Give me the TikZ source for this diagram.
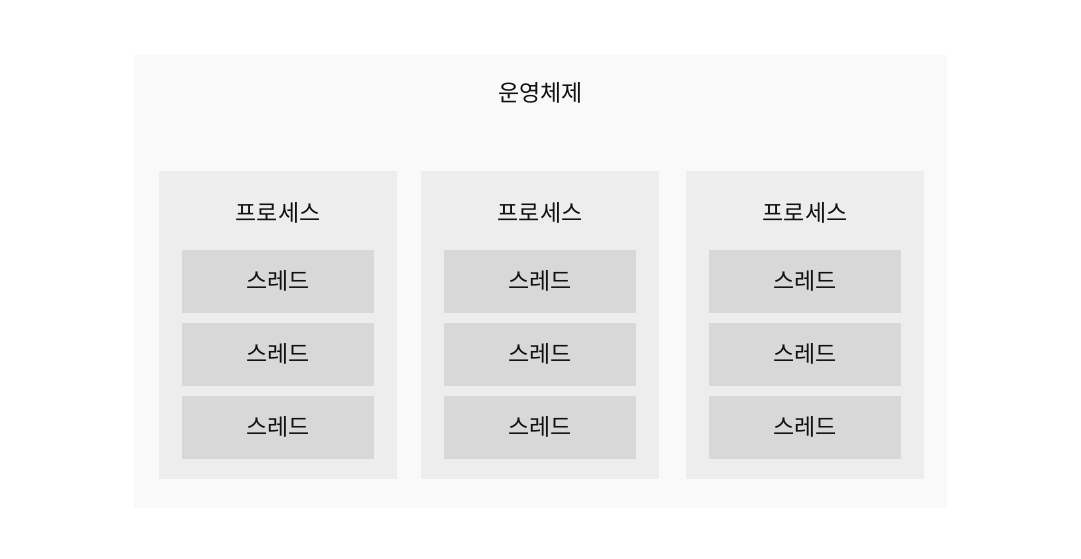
\documentclass[tikz,border=0pt]{standalone}
\usepackage{fontspec}
\newfontfamily\kr{Noto Sans CJK KR}
\definecolor{osbg}{HTML}{F9F9F9}
\definecolor{procbg}{HTML}{EDEDED}
\definecolor{thrbg}{HTML}{D8D8D8}
\definecolor{txt}{HTML}{111111}
\tikzset{
  osbox/.style={fill=osbg, draw=none},
  procbox/.style={fill=procbg, draw=none},
  thrbox/.style={fill=thrbg, draw=none, minimum width=192pt, minimum height=63pt, inner sep=0pt,
    font=\kr\fontsize{23}{27}\selectfont, text=txt},
  lbl/.style={font=\kr\fontsize{23}{27}\selectfont, text=txt, inner sep=0pt},
}
\begin{document}
\begin{tikzpicture}[x=1pt,y=-1pt]
\useasboundingbox (0,0) rectangle (1081,559);
\fill[white] (0,0) rectangle (1081,559);
\fill[osbox] (134,55) rectangle (947,508);
\node[lbl] (os) at (540.5,93) {운영체제};
\foreach \px/\n in {159/a,421/b,686/c}{
  \fill[procbox] (\px,171) rectangle ++(238,308);
  \node[lbl] (p\n) at (\px+119,213) {프로세스};
  \node[thrbox] (t\n1) at (\px+119,281) {\raisebox{0pt}{스레드}};
  \node[thrbox] (t\n2) at (\px+119,354) {스레드};
  \node[thrbox] (t\n3) at (\px+119,427) {스레드};
}
\end{tikzpicture}
\end{document}
